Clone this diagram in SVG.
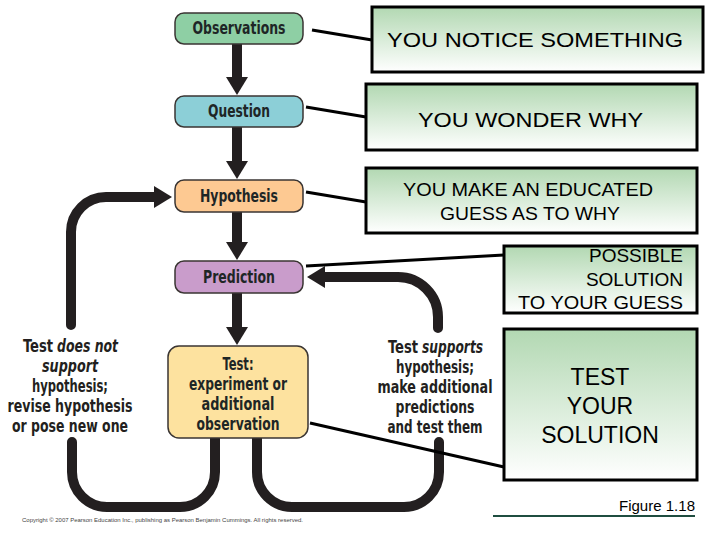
<svg xmlns="http://www.w3.org/2000/svg" width="720" height="540" viewBox="0 0 720 540">
<style>
.nd{stroke:#3a3533;stroke-width:1.5}
.nt{font-family:'Liberation Sans Narrow','DejaVu Sans Condensed','Liberation Sans',sans-serif;font-weight:bold;font-size:17px;fill:#1e2626;text-anchor:middle}
.lt{font-family:'Liberation Sans Narrow','DejaVu Sans Condensed','Liberation Sans',sans-serif;font-weight:bold;font-size:17px;fill:#231f20;text-anchor:middle}
.ls{font-family:'Liberation Sans Narrow','DejaVu Sans Condensed','Liberation Sans',sans-serif;font-weight:bold;font-size:17px;fill:#231f20}
.it{font-style:italic}
.thick{fill:none;stroke:#231f20;stroke-width:10}
.loop{fill:none;stroke:#231f20;stroke-width:10;stroke-linecap:round}
.thin{fill:none;stroke:#000;stroke-width:3}
.rb{fill:url(#g);stroke:#000;stroke-width:3}
.rt{font-family:'Liberation Sans',Arial,sans-serif;fill:#000}
</style>
<defs>
<linearGradient id="g" x1="0" y1="0" x2="0" y2="1">
<stop offset="0" stop-color="#b2d8b2"/>
<stop offset="1" stop-color="#ffffff"/>
</linearGradient>
<marker id="ah" viewBox="0 0 18 22" refX="1" refY="11" markerWidth="18" markerHeight="22" markerUnits="userSpaceOnUse" orient="auto">
<path d="M0,0 L18,11 L0,22 z" fill="#231f20"/>
</marker>
</defs>
<rect width="720" height="540" fill="#ffffff"/>
<g id="connectors">
<path class="thick" d="M237,44 V78" marker-end="url(#ah)"/>
<path class="thick" d="M237,127 V162" marker-end="url(#ah)"/>
<path class="thick" d="M237,212 V243" marker-end="url(#ah)"/>
<path class="thick" d="M237,293 V328" marker-end="url(#ah)"/>
<path class="loop" d="M71,325 V232 A35,35 0 0 1 106,197 H155" marker-end="url(#ah)"/>
<path class="loop" d="M438,328 V317 A40,40 0 0 0 398,277 H324" marker-end="url(#ah)"/>
<path class="loop" d="M72,442 V472 A35,35 0 0 0 107,507 H180 A35,35 0 0 0 215,472 V430"/>
<path class="loop" d="M257,430 V472 A35,35 0 0 0 292,507 H404 A35,35 0 0 0 439,472 V442"/>
<path class="thin" d="M312,30 L372,40"/>
<path class="thin" d="M306,107 L366,117"/>
<path class="thin" d="M306,192 L366,202"/>
<path class="thin" d="M306,266 L504,255"/>
<path class="thin" d="M310,423 L504,467"/>
</g>
<g id="observations">
<rect class="nd" x="175" y="13" width="128" height="31" rx="9" fill="#8ecfa4"/>
<text class="nt" x="239" y="34" textLength="93" lengthAdjust="spacingAndGlyphs">Observations</text>
</g>
<g id="question">
<rect class="nd" x="175" y="96" width="128" height="31" rx="9" fill="#8ccfd7"/>
<text class="nt" x="239" y="117" textLength="62" lengthAdjust="spacingAndGlyphs">Question</text>
</g>
<g id="hypothesis">
<rect class="nd" x="175" y="180" width="128" height="32" rx="9" fill="#fdc992"/>
<text class="nt" x="239" y="202" textLength="78" lengthAdjust="spacingAndGlyphs">Hypothesis</text>
</g>
<g id="prediction">
<rect class="nd" x="175" y="261" width="128" height="32" rx="9" fill="#c99ccb"/>
<text class="nt" x="239" y="283" textLength="72" lengthAdjust="spacingAndGlyphs">Prediction</text>
</g>
<g id="test">
<rect class="nd" x="168" y="346" width="140" height="92" rx="11" fill="#fde29f"/>
<text class="nt" x="238" y="370" textLength="31" lengthAdjust="spacingAndGlyphs">Test:</text>
<text class="nt" x="238" y="390" textLength="98" lengthAdjust="spacingAndGlyphs">experiment or</text>
<text class="nt" x="238" y="410" textLength="73" lengthAdjust="spacingAndGlyphs">additional</text>
<text class="nt" x="238" y="430" textLength="83" lengthAdjust="spacingAndGlyphs">observation</text>
</g>
<g id="not-supported-label">
<text class="ls" x="23" y="352" textLength="30" lengthAdjust="spacingAndGlyphs">Test</text>
<text class="ls it" x="57" y="352" textLength="61" lengthAdjust="spacingAndGlyphs">does not</text>
<text class="lt it" x="70" y="372" textLength="56" lengthAdjust="spacingAndGlyphs">support</text>
<text class="lt" x="70" y="392" textLength="76" lengthAdjust="spacingAndGlyphs">hypothesis;</text>
<text class="lt" x="70" y="412" textLength="125" lengthAdjust="spacingAndGlyphs">revise hypothesis</text>
<text class="lt" x="70" y="432" textLength="116" lengthAdjust="spacingAndGlyphs">or pose new one</text>
</g>
<g id="supported-label">
<text class="ls" x="388" y="353" textLength="30" lengthAdjust="spacingAndGlyphs">Test</text>
<text class="ls it" x="422" y="353" textLength="61" lengthAdjust="spacingAndGlyphs">supports</text>
<text class="lt" x="435" y="373" textLength="78" lengthAdjust="spacingAndGlyphs">hypothesis;</text>
<text class="lt" x="435" y="393" textLength="115" lengthAdjust="spacingAndGlyphs">make additional</text>
<text class="lt" x="435" y="413" textLength="79" lengthAdjust="spacingAndGlyphs">predictions</text>
<text class="lt" x="435" y="433" textLength="95" lengthAdjust="spacingAndGlyphs">and test them</text>
</g>
<g id="box-notice">
<rect class="rb" x="372" y="7" width="331" height="65"/>
<text class="rt" x="387" y="47" font-size="20" textLength="296" lengthAdjust="spacingAndGlyphs">YOU NOTICE SOMETHING</text>
</g>
<g id="box-wonder">
<rect class="rb" x="366" y="84" width="331" height="66"/>
<text class="rt" x="418" y="127" font-size="21" textLength="225" lengthAdjust="spacingAndGlyphs">YOU WONDER WHY</text>
</g>
<g id="box-guess">
<rect class="rb" x="366" y="168" width="331" height="65"/>
<text class="rt" x="528" y="196" font-size="19" text-anchor="middle" textLength="250" lengthAdjust="spacingAndGlyphs">YOU MAKE AN EDUCATED</text>
<text class="rt" x="530" y="220" font-size="19" text-anchor="middle" textLength="180" lengthAdjust="spacingAndGlyphs">GUESS AS TO WHY</text>
</g>
<g id="box-solution">
<rect class="rb" x="504" y="246" width="193" height="67"/>
<text class="rt" x="683" y="262" font-size="19" text-anchor="end">POSSIBLE</text>
<text class="rt" x="683" y="286" font-size="19" text-anchor="end">SOLUTION</text>
<text class="rt" x="683" y="309" font-size="19" text-anchor="end" textLength="165" lengthAdjust="spacingAndGlyphs">TO YOUR GUESS</text>
</g>
<g id="box-test">
<rect class="rb" x="504" y="329" width="193" height="151"/>
<text class="rt" x="600" y="385" font-size="23" text-anchor="middle">TEST</text>
<text class="rt" x="600" y="414" font-size="23" text-anchor="middle">YOUR</text>
<text class="rt" x="600" y="443" font-size="23" text-anchor="middle">SOLUTION</text>
</g>
<g id="caption">
<text class="rt" x="695" y="511" font-size="14.5" text-anchor="end" fill="#222" textLength="76" lengthAdjust="spacingAndGlyphs">Figure 1.18</text>
<line x1="493" y1="516" x2="695" y2="516" stroke="#1f4d40" stroke-width="2"/>
<text x="22" y="522" font-family="'Liberation Sans',Arial,sans-serif" font-size="5.5" fill="#444" textLength="281" lengthAdjust="spacingAndGlyphs">Copyright © 2007 Pearson Education Inc., publishing as Pearson Benjamin Cummings. All rights reserved.</text>
</g>
</svg>
